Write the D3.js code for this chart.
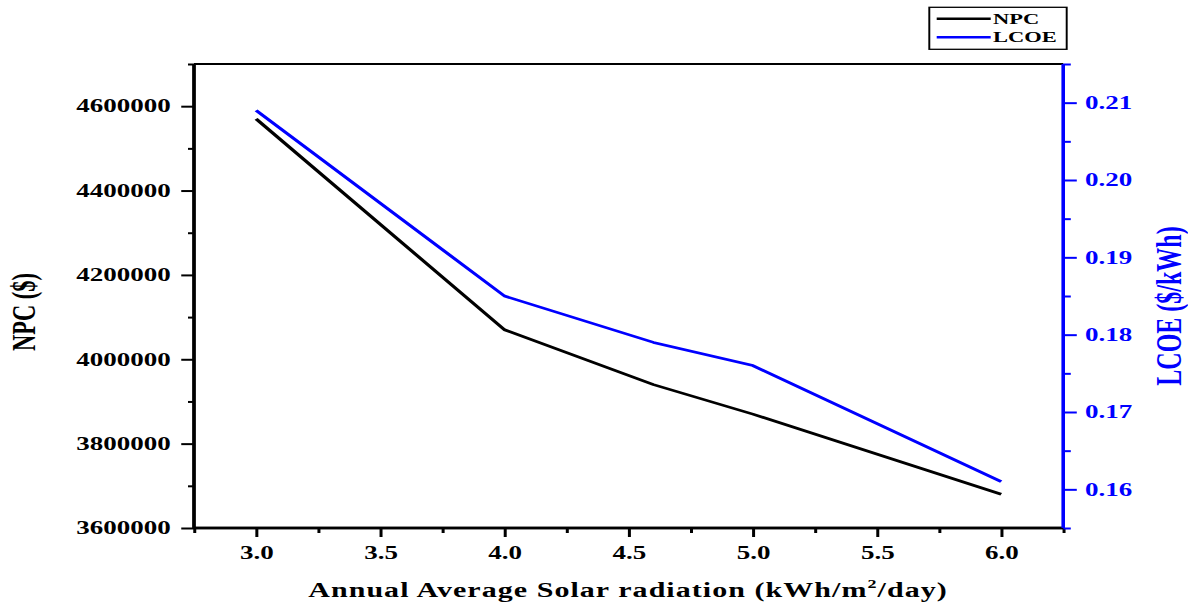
<!DOCTYPE html>
<html>
<head>
<meta charset="utf-8">
<script src="https://cdn.jsdelivr.net/npm/d3@7"></script>
<style>
  html, body { margin: 0; padding: 0; background: #fff; }
  svg { display: block; }
  text { font-family: "Liberation Serif", "Times New Roman", serif; font-weight: bold; }
</style>
</head>
<body>
<svg id="chart"></svg>
<script>
// ---- Data ----
const radiation = [3.0, 4.0, 4.6, 5.0, 6.0];
const npcValues = [4570000, 4070000, 3940000, 3870000, 3680000];
const lcoeValues = [0.209, 0.185, 0.179, 0.176, 0.161];
const xTicks = [3.0, 3.5, 4.0, 4.5, 5.0, 5.5, 6.0];
const npcTicks = [3600000, 3800000, 4000000, 4200000, 4400000, 4600000];
const lcoeTicks = [0.16, 0.17, 0.18, 0.19, 0.20, 0.21];
const seriesNames = ["NPC", "LCOE"];

(function () {
// ---- Layout (drawn in a horizontally stretched coordinate system) ----
const W = 1188, H = 605, SX = 1.5;
const IW = W / SX;
const svg = d3.select("#chart")
  .attr("width", W).attr("height", H)
  .attr("viewBox", `0 0 ${IW} ${H}`)
  .attr("preserveAspectRatio", "none");

const pLeft = 194 / SX, pRight = 1063.3 / SX, pTop = 64, pBottom = 528;
const x = d3.scaleLinear().domain([2.75, 6.25]).range([pLeft, pRight]);
const yL = d3.scaleLinear().domain([3600000, 4700000]).range([pBottom, pTop]);
const yR = d3.scaleLinear().domain([0.155, 0.215]).range([pBottom, pTop]);
const BLUE = "#0000ff";

// minor ticks
const xMinor = d3.range(2.75, 6.26, 0.5);
const lMinor = d3.range(3700000, 4700001, 200000);
const rMinor = d3.range(0.155, 0.2151, 0.01);

// top frame
svg.append("line").attr("x1", pLeft).attr("x2", pRight).attr("y1", pTop).attr("y2", pTop)
  .attr("stroke", "#000").attr("stroke-width", 2);

// bottom axis
const gx = svg.append("g").attr("transform", `translate(0,${pBottom})`)
  .call(d3.axisBottom(x).tickValues(xMinor).tickSize(5).tickFormat(""));
gx.selectAll(".tick line").attr("stroke-width", 2);
const gx2 = svg.append("g").attr("transform", `translate(0,${pBottom})`)
  .call(d3.axisBottom(x).tickValues(xTicks).tickSize(9).tickPadding(9).tickFormat(d3.format(".1f")));
gx2.selectAll(".tick line").attr("stroke-width", 2);
gx2.selectAll("text").attr("font-size", 18).attr("font-family", "Liberation Serif").attr("font-weight", "bold").attr("fill", "#000");
[gx, gx2].forEach(g => g.select(".domain").attr("stroke-width", 2.5).attr("d", `M${pLeft},0H${pRight}`));

// left axis
const gl = svg.append("g").attr("transform", `translate(${pLeft},0)`)
  .call(d3.axisLeft(yL).tickValues(lMinor).tickSize(4).tickFormat(""));
gl.selectAll(".tick line").attr("stroke-width", 2);
const gl2 = svg.append("g").attr("transform", `translate(${pLeft},0)`)
  .call(d3.axisLeft(yL).tickValues(npcTicks).tickSize(8.5).tickPadding(7).tickFormat(d3.format("d")));
gl2.selectAll(".tick line").attr("stroke-width", 2);
gl2.selectAll("text").attr("font-size", 18).attr("font-family", "Liberation Serif").attr("font-weight", "bold").attr("fill", "#000");
[gl, gl2].forEach(g => g.select(".domain").attr("stroke-width", 2.2).attr("d", `M0,${pTop}V${pBottom}`));

// right axis (blue)
const gr = svg.append("g").attr("transform", `translate(${pRight},0)`)
  .call(d3.axisRight(yR).tickValues(rMinor).tickSize(5).tickFormat(""));
gr.selectAll(".tick line").attr("stroke", BLUE).attr("stroke-width", 2);
const gr2 = svg.append("g").attr("transform", `translate(${pRight},0)`)
  .call(d3.axisRight(yR).tickValues(lcoeTicks).tickSize(9).tickPadding(5.5).tickFormat(d3.format(".2f")));
gr2.selectAll(".tick line").attr("stroke", BLUE).attr("stroke-width", 2);
gr2.selectAll("text").attr("font-size", 18).attr("font-family", "Liberation Serif").attr("font-weight", "bold").attr("fill", BLUE);
[gr, gr2].forEach(g => g.select(".domain").attr("stroke", BLUE).attr("stroke-width", 2.2).attr("d", `M0,${pTop}V${pBottom}`));

// data lines
const lineNPC = d3.line().x((d, i) => x(radiation[i])).y(d => yL(d));
const lineLCOE = d3.line().x((d, i) => x(radiation[i])).y(d => yR(d));
svg.append("path").datum(npcValues).attr("d", lineNPC)
  .attr("fill", "none").attr("stroke", "#000").attr("stroke-width", 2.6).attr("stroke-linejoin", "round");
svg.append("path").datum(lcoeValues).attr("d", lineLCOE)
  .attr("fill", "none").attr("stroke", BLUE).attr("stroke-width", 2.6).attr("stroke-linejoin", "round");

// axis titles
const xt = svg.append("text").attr("x", 628 / SX).attr("y", 597)
  .attr("text-anchor", "middle").attr("font-size", 20).attr("letter-spacing", 0.7).attr("fill", "#000");
xt.append("tspan").text("Annual Average Solar radiation (kWh/m");
xt.append("tspan").attr("dy", -9).attr("font-size", 12).text("2");
xt.append("tspan").attr("dy", 9).text("/day)");

svg.append("text").attr("transform", `translate(${35 / SX},312) rotate(-90)`)
  .attr("text-anchor", "middle").attr("font-size", 22.5).attr("fill", "#000").text("NPC ($)");
svg.append("text").attr("transform", `translate(${1181 / SX},306) rotate(-90)`)
  .attr("text-anchor", "middle").attr("font-size", 24).attr("fill", BLUE).text("LCOE ($/kWh)");

// legend
const lg = svg.append("g");
lg.append("rect").attr("x", 929.3 / SX).attr("y", 7.3).attr("width", (1066.7 - 929.3) / SX).attr("height", 42)
  .attr("fill", "#fff").attr("stroke", "#000").attr("stroke-width", 1.3);
const legColors = ["#000", BLUE];
seriesNames.forEach((name, i) => {
  const yy = 18.7 + i * 18.6;
  lg.append("line").attr("x1", 936.7 / SX).attr("x2", 990.7 / SX).attr("y1", yy).attr("y2", yy)
    .attr("stroke", legColors[i]).attr("stroke-width", 2.6);
  lg.append("text").attr("x", 993 / SX).attr("y", yy + 5).attr("font-size", 15).attr("fill", "#000").text(name);
});
})();
</script>
</body>
</html>
